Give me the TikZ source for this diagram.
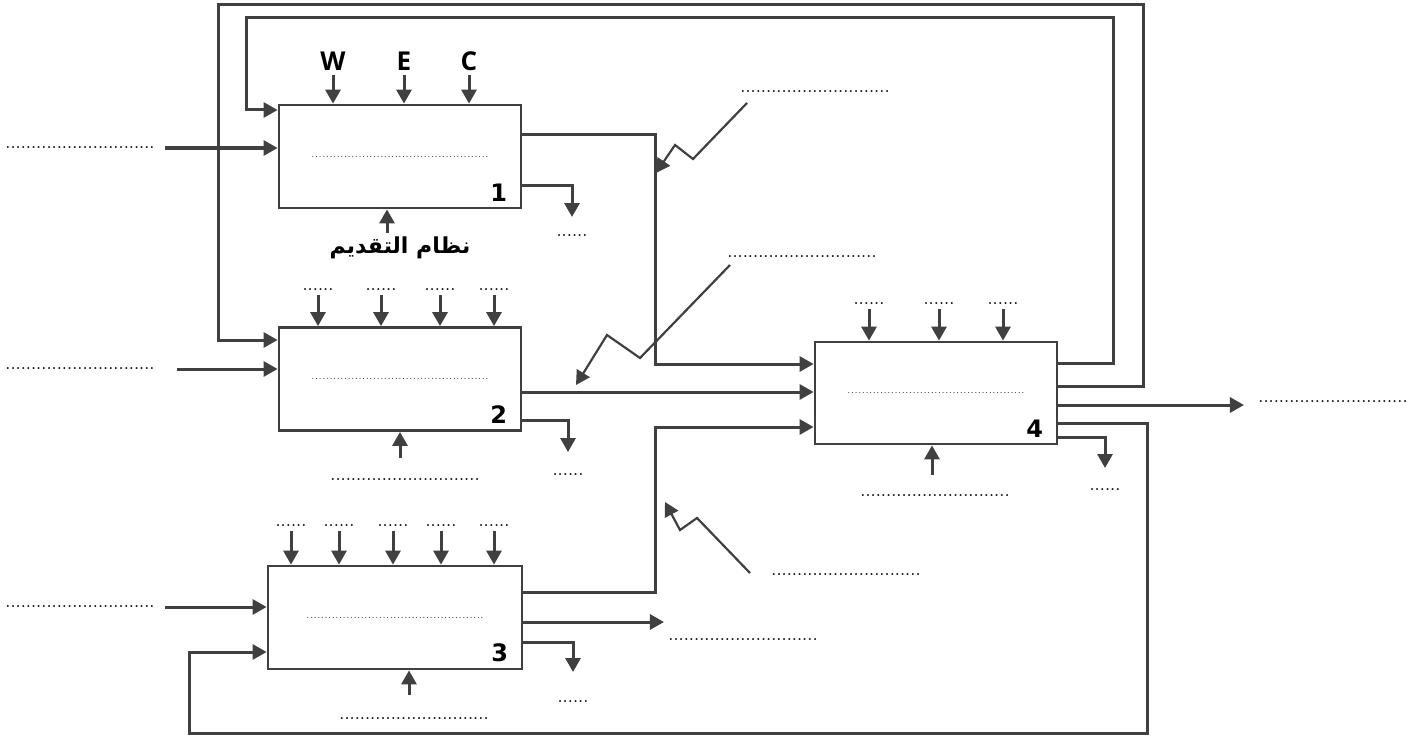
\documentclass[tikz,border=0pt]{standalone}
\usepackage{fontspec}
\usepackage{tikz}
\usetikzlibrary{arrows.meta}
\usepackage{xcolor}
\TeXXeTstate=1
\newfontfamily\headfont{Open Sans}
\newfontfamily\numfont{DejaVu Sans}
\newfontfamily\arabicfont[Script=Arabic]{DejaVu Sans}
\definecolor{linegray}{HTML}{404040}
\newcommand{\fillline}{{\fontsize{4.5}{4.5}\selectfont\color{black!85}.................................................}}
\newcommand{\longdots}{.............................}
\newcommand{\shortdots}{......}

\begin{document}
\begin{tikzpicture}[x=0.5pt,y=-0.5pt,>={Triangle[length=7pt,width=7.5pt]},
  box/.style={draw=linegray,line width=1.4pt,minimum width=121pt,minimum height=51.5pt,inner sep=0pt},
  arr/.style={->,draw=linegray,line width=1.5pt},
  bolt/.style={->,draw=linegray,line width=1.1pt},
  dots/.style={font=\fontsize{9}{9}\selectfont,inner sep=2pt},
  letter/.style={font=\headfont\bfseries\fontsize{13}{13}\selectfont,inner sep=2pt},
  num/.style={font=\numfont\bfseries\fontsize{12}{12}\selectfont,anchor=south east,inner sep=0pt}]
\useasboundingbox (0,0) rectangle (1413,738);

% the four blocks
\node[box] (b1) at (400,156.5) {\fillline};
\node[box] (b2) at (400,379) {\fillline};
\node[box,minimum width=127pt] (b3) at (395,617.5) {\fillline};
\node[box,minimum height=51pt] (b4) at (936,393) {\fillline};
\node[num] (n1) at ([xshift=-7.5pt,yshift=4pt]b1.south east) {1};
\node[num] (n2) at ([xshift=-7.5pt,yshift=4pt]b2.south east) {2};
\node[num] (n3) at ([xshift=-7.5pt,yshift=4pt]b3.south east) {3};
\node[num] (n4) at ([xshift=-7.5pt,yshift=4pt]b4.south east) {4};

% inputs from above
\node[letter] (w) at (333,61) {W};
\node[letter] (e) at (404,61) {E};
\node[letter] (c) at (469,61) {C};
\foreach \t in {w,e,c}
  \draw[arr] (\t.south) -- (\t.south |- b1.north);
\foreach \x [count=\i] in {318,381,440,494} {
  \node[dots] (t2\i) at (\x,290) {\shortdots};
  \draw[arr] (t2\i.south) -- (t2\i.south |- b2.north);
}
\foreach \x [count=\i] in {291,339,393,441,494} {
  \node[dots] (t3\i) at (\x,526) {\shortdots};
  \draw[arr] (t3\i.south) -- (t3\i.south |- b3.north);
}
\foreach \x [count=\i] in {869,939,1003} {
  \node[dots] (t4\i) at (\x,304) {\shortdots};
  \draw[arr] (t4\i.south) -- (t4\i.south |- b4.north);
}

% inputs from below
\node[font=\arabicfont\bfseries\fontsize{11}{11}\selectfont] (ar) at (400,248) {\beginR نظام التقديم\endR};
\node[dots] (c2) at (405,480) {\longdots};
\node[dots] (c3) at (414,719) {\longdots};
\node[dots] (c4) at (935,496) {\longdots};
\coordinate (m1) at (387,233);
\coordinate (m2) at (400,458);
\coordinate (m3) at (409,695);
\coordinate (m4) at (932,475);
\draw[arr] (m1) -- (m1 |- b1.south);
\draw[arr] (m2) -- (m2 |- b2.south);
\draw[arr] (m3) -- (m3 |- b3.south);
\draw[arr] (m4) -- (m4 |- b4.south);

% inputs from the left
\node[dots] (in1) at (80,148) {\longdots};
\node[dots] (in2) at (80,369) {\longdots};
\node[dots] (in3) at (80,607) {\longdots};
\draw[arr] ([xshift=3pt]in1.east) -- (in1.east -| b1.west);
\draw[arr] ([xshift=9pt]in2.east) -- (in2.east -| b2.west);
\draw[arr] ([xshift=3pt]in3.east) -- (in3.east -| b3.west);

% feedback loops
\draw[arr] (b4.east |- 0,386) -- (1143,386) -- (1143,5) -- (218,5) -- (218,340) -- (b2.west |- 0,340);
\draw[arr] (b4.east |- 0,363) -- (1113,363) -- (1113,18) -- (246,18) -- (246,110) -- (b1.west |- 0,110);
\draw[arr] (b4.east |- 0,423) -- (1147,423) -- (1147,733) -- (189,733) -- (189,652) -- (b3.west |- 0,652);

% block to block
\draw[arr] (b1.east |- 0,135) -- (655,135) -- (655,364) -- (b4.west |- 0,364);
\draw[arr] (b2.east |- 0,392) -- (b4.west |- 0,392);
\draw[arr] (b3.east |- 0,592) -- (655,592) -- (655,427) -- (b4.west |- 0,427);

% outputs
\node[dots] (o3) at (743,640) {\longdots};
\node[dots] (out) at (1333,402) {\longdots};
\draw[arr] (b3.east |- 0,622) -- (o3.west |- 0,622);
\draw[arr,shorten >=5pt] (b4.east |- 0,405) -- (out.west |- 0,405);

% small outputs
\node[dots] (r1) at (572,236) {\shortdots};
\node[dots] (r2) at (568,475) {\shortdots};
\node[dots] (r3) at (573,702) {\shortdots};
\node[dots] (r4) at (1105,490) {\shortdots};
\draw[arr] (b1.east |- 0,185) -- (r1 |- 0,185) -- (r1 |- 0,217);
\draw[arr] (b2.east |- 0,420) -- (r2 |- 0,420) -- (r2 |- 0,452);
\draw[arr] (b3.east |- 0,642) -- (r3 |- 0,642) -- (r3 |- 0,672);
\draw[arr] (b4.east |- 0,437) -- (r4 |- 0,437) -- (r4 |- 0,468);

% disturbances
\node[dots] (z1) at (815,92) {\longdots};
\node[dots] (z2) at (802,257) {\longdots};
\node[dots] (z3) at (846,575) {\longdots};
\draw[bolt] (747,103) -- (693,159) -- (675,145) -- (656,173);
\draw[bolt] (730,265) -- (640,358) -- (607,335) -- (576,385);
\draw[bolt] (750,573) -- (697,518) -- (680,530) -- (665,502);
\end{tikzpicture}
\end{document}
